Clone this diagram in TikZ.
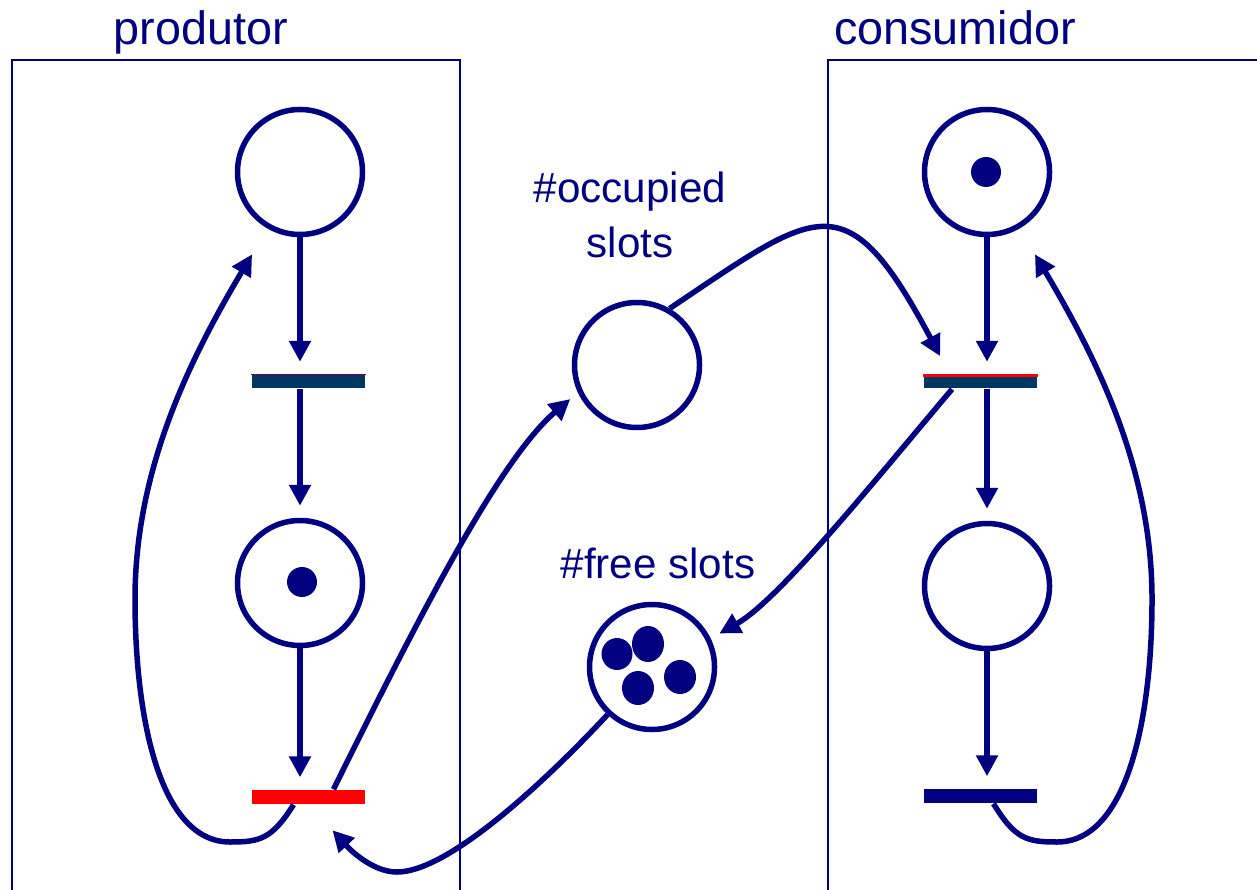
\documentclass[tikz,border=0pt]{standalone}
\usepackage{fontspec}
\setmainfont{Liberation Sans}
\usetikzlibrary{arrows.meta}
\definecolor{netblue}{RGB}{0,0,128}
\definecolor{barteal}{RGB}{0,56,100}
\definecolor{barplum}{RGB}{110,0,90}

\begin{document}
\begin{tikzpicture}[
  placesty/.style={draw=netblue, line width=0.055cm, circle, minimum size=1.25cm, inner sep=0pt, fill=white},
  transsty/.style={rectangle, minimum width=1.13cm, minimum height=0.14cm, inner sep=0pt},
  arcsty/.style={draw=netblue, line width=0.055cm, -{Triangle[length=0.21cm,width=0.21cm]}, shorten >=0.12cm},
  boxsty/.style={draw=netblue, line width=0.02cm},
  tokensty/.style={fill=netblue},
  headsty/.style={text=netblue, font=\fontsize{13.3}{16}\selectfont, anchor=base},
  namesty/.style={text=netblue, font=\fontsize{12}{14.2}\selectfont, anchor=base, align=center}]

\useasboundingbox (0,0) rectangle (12.57,8.89);
\clip (0,0) rectangle (12.57,8.89);

% producer / consumer frames, open at the bottom
\draw[boxsty] (0.12,-0.5) -- (0.12,8.29) -- (4.60,8.29) -- (4.60,-0.5);
\draw[boxsty] (8.28,-0.5) -- (8.28,8.29) -- (13,8.29);

\node[headsty] (prodLbl) at (2.01,8.44) {produtor};
\node[headsty] (consLbl) at (9.55,8.44) {consumidor};

% transitions
\node[transsty, fill=barteal] (tA) at (3.085,5.075) {};
\draw[barplum, line width=0.01cm] ([yshift=-0.005cm]tA.north west) -- ([yshift=-0.005cm]tA.north east);
\node[transsty, fill=red] (tB) at (3.085,0.92) {};
\node[transsty, fill=barteal] (tC) at (9.805,5.075) {};
\draw[red, line width=0.03cm] ([yshift=-0.015cm]tC.north west) -- ([yshift=-0.015cm]tC.north east);
\node[transsty, fill=netblue] (tD) at (9.805,0.93) {};

% places
\node[placesty] (pA) at (3.00,7.17) {};
\node[placesty] (pB) at (3.00,3.06) {};
\node[placesty] (pOcc) at (6.37,5.24) {};
\node[placesty] (pFree) at (6.52,2.22) {};
\node[placesty] (pC) at (9.87,7.17) {};
\node[placesty] (pD) at (9.87,3.03) {};

\node[namesty] (occLbl) at (6.30,6.31) {\#occupied\\[1.5pt]slots};
\node[namesty] (freeLbl) at (6.58,3.11) {\#free slots};

% tokens
\fill[tokensty] (3.02,3.07) circle (0.15);
\fill[tokensty] (9.86,7.17) circle (0.15);
\fill[tokensty] (6.17,2.35) ellipse (0.155 and 0.16);
\fill[tokensty] (6.48,2.45) ellipse (0.16 and 0.18);
\fill[tokensty] (6.38,2.01) ellipse (0.16 and 0.17);
\fill[tokensty] (6.80,2.12) ellipse (0.16 and 0.17);

% producer
\draw[arcsty] (pA) -- (pA |- tA.north);
\draw[arcsty] (tA.south -| pB) -- (pB);
\draw[arcsty] (pB) -- (pB |- tB.north);
\draw[arcsty, shorten >=0.3cm] ([xshift=-0.15cm]tB.south) .. controls (2.72,0.50) and (2.60,0.47) .. (2.30,0.47)
  .. controls (1.60,0.47) and (1.35,1.70) .. (1.35,2.90)
  .. controls (1.35,4.20) and (1.90,5.30) .. (pA.240);

% consumer
\draw[arcsty] (pC) -- (pC |- tC.north);
\draw[arcsty] (tC.south -| pD) -- (pD);
\draw[arcsty] (pD) -- (pD |- tD.north);
\draw[arcsty, shorten >=0.3cm] ([xshift=0.13cm]tD.south) .. controls (10.15,0.50) and (10.27,0.47) .. (10.57,0.47)
  .. controls (11.27,0.47) and (11.52,1.70) .. (11.52,2.90)
  .. controls (11.52,4.20) and (10.97,5.30) .. (pC.300);

% buffer
\draw[arcsty, shorten >=0.1cm] ([xshift=0.25cm]tB.north) .. controls (4.20,2.75) and (5.00,4.30) .. (pOcc.205);
\draw[arcsty, shorten >=0.2cm] (pOcc.60) .. controls (8.18,6.80) and (8.46,7.10) .. ([xshift=-0.31cm]tC.north);
\draw[arcsty, shorten >=0.1cm] ([xshift=-0.285cm]tC.south) .. controls (8.75,4.09) and (7.79,2.89) .. (pFree.26);
\draw[arcsty, shorten >=0.35cm] (pFree.227) .. controls (5.41,1.03) and (4.47,0.17) .. (3.97,0.17)
  .. controls (3.65,0.17) and (3.36,0.55) .. (tB.south);

\end{tikzpicture}
\end{document}
